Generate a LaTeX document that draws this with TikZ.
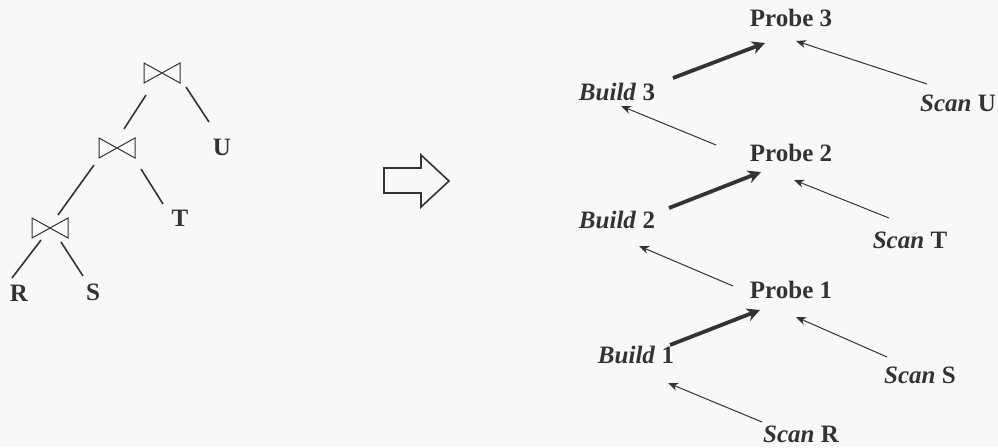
\documentclass[tikz,border=0pt]{standalone}
\usepackage{fontspec}
\setmainfont{Liberation Serif}
\usetikzlibrary{arrows.meta,calc}
\definecolor{ink}{HTML}{333333}
\definecolor{bg}{HTML}{F9F8F7}
\begin{document}
\begin{tikzpicture}[x=1pt,y=-1pt,
  lbl/.style={inner sep=0pt,text=ink,font=\fontsize{25}{30}\selectfont\bfseries},
  edge/.style={draw=ink,line width=1.6pt},
  thin/.style={draw=ink,line width=1pt,-{Stealth[length=10pt,width=8pt,inset=3pt]}},
  thick/.style={draw=ink,line width=3.8pt,-{Stealth[length=13pt,width=13pt,inset=4pt]}},
  bow/.style={draw=ink,line width=1pt}]
\fill[bg] (0,0) rectangle (998,447);
\useasboundingbox (0,0) rectangle (998,447);
% bowties
\foreach \n/\cx/\cy in {j3/162/73,j2/117/148,j1/50/228}{
  \coordinate (\n) at (\cx,\cy);
  \draw[bow] ($(\n)+(-18,-10)$) -- ($(\n)+(18,10)$) -- ($(\n)+(18,-10)$) -- ($(\n)+(-18,10)$) -- cycle;
}
% leaves
\node[lbl] (U) at (222,147) {U};
\node[lbl] (T) at (180,218) {T};
\node[lbl] (R) at (19,293) {R};
\node[lbl] (S) at (93,292) {S};
% tree edges
\coordinate (a1) at (146,95); \coordinate (a2) at (124,129);
\coordinate (b1) at (186,87); \coordinate (b2) at (209,122);
\coordinate (c1) at (94,165); \coordinate (c2) at (58,215);
\coordinate (d1) at (141,169); \coordinate (d2) at (163,204);
\coordinate (e1) at (41,240); \coordinate (e2) at (12,278);
\coordinate (f1) at (61,242); \coordinate (f2) at (83,276);
\draw[edge] (a1) -- (a2);
\draw[edge] (b1) -- (b2);
\draw[edge] (c1) -- (c2);
\draw[edge] (d1) -- (d2);
\draw[edge] (e1) -- (e2);
\draw[edge] (f1) -- (f2);
% big arrow
\draw[draw=ink,line width=1.6pt,line join=miter] (384,168) -- (421,168) -- (421,155) -- (449,181) -- (421,207) -- (421,193) -- (384,193) -- cycle;
% right side labels
\node[lbl] (P3) at (791,18) {Probe 3};
\node[lbl] (P2) at (791,153) {Probe 2};
\node[lbl] (P1) at (791,290) {Probe 1};
\node[lbl] (B3) at (617,92) {\itshape Build\/ \upshape 3};
\node[lbl] (B2) at (617,220) {\itshape Build\/ \upshape 2};
\node[lbl] (B1) at (636,355) {\itshape Build\/ \upshape 1};
\node[lbl] (SU) at (958,103) {\itshape Scan\/ \upshape U};
\node[lbl] (ST) at (910,240) {\itshape Scan\/ \upshape T};
\node[lbl] (SS) at (920,375) {\itshape Scan\/ \upshape S};
\node[lbl] (SR) at (801,434) {\itshape Scan\/ \upshape R};
% arrow endpoints
\coordinate (t3s) at (673,78); \coordinate (t3e) at (765,43);
\coordinate (t2s) at (669,208); \coordinate (t2e) at (761,172);
\coordinate (t1s) at (670,345); \coordinate (t1e) at (760,310);
\coordinate (h1s) at (716,145); \coordinate (h1e) at (621,106);
\coordinate (h2s) at (927,84); \coordinate (h2e) at (796,41);
\coordinate (h3s) at (733,286); \coordinate (h3e) at (639,246);
\coordinate (h4s) at (889,218); \coordinate (h4e) at (794,180);
\coordinate (h5s) at (887,357); \coordinate (h5e) at (796,317);
\coordinate (h6s) at (762,422); \coordinate (h6e) at (668,383);
\draw[thick] (t3s) -- (t3e);
\draw[thick] (t2s) -- (t2e);
\draw[thick] (t1s) -- (t1e);
\draw[thin] (h1s) -- (h1e);
\draw[thin] (h2s) -- (h2e);
\draw[thin] (h3s) -- (h3e);
\draw[thin] (h4s) -- (h4e);
\draw[thin] (h5s) -- (h5e);
\draw[thin] (h6s) -- (h6e);
\end{tikzpicture}
\end{document}
